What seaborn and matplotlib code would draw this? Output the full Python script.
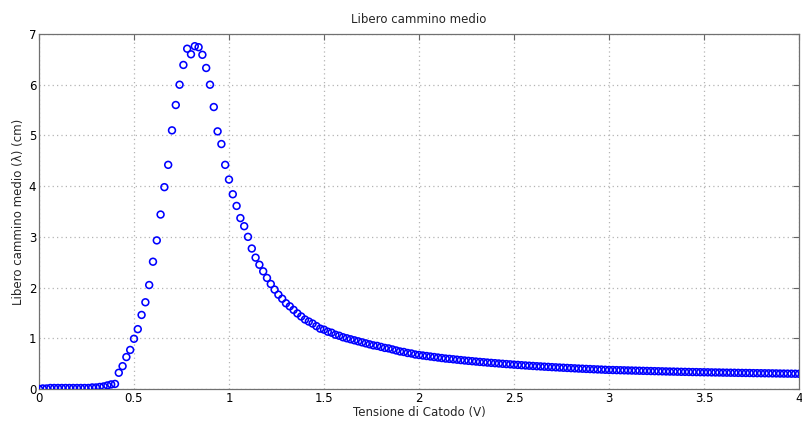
import numpy as np
import matplotlib
matplotlib.use("Agg")
import matplotlib.pyplot as plt
import seaborn as sns
from matplotlib.ticker import FormatStrFormatter, MultipleLocator

# Cathode voltage sampling grid (V), 0.02 V steps
voltage = np.linspace(0.0, 4.0, 201)

# Mean free path (cm)
rise = [0.00, 0.01, 0.01, 0.02, 0.02, 0.02, 0.02, 0.02, 0.02, 0.02,
        0.02, 0.02, 0.02, 0.02, 0.03, 0.03, 0.04, 0.05, 0.07, 0.09,
        0.10, 0.32, 0.45, 0.63, 0.77, 0.99, 1.18, 1.46, 1.71, 2.05]
peak = [2.51, 2.93, 3.44, 3.98, 4.42, 5.10, 5.60, 6.00, 6.39, 6.71,
        6.60, 6.76, 6.74, 6.59, 6.33, 6.00, 5.56, 5.08, 4.83, 4.42,
        4.13, 3.84, 3.61, 3.37, 3.21, 3.00, 2.77, 2.59, 2.45, 2.32,
        2.19, 2.07, 1.96, 1.86, 1.78, 1.69, 1.63, 1.56, 1.49, 1.43,
        1.37, 1.33, 1.29, 1.24, 1.19, 1.17, 1.13, 1.11, 1.07]
tail = [1.05, 1.02, 1.00, 0.98, 0.96, 0.94, 0.92, 0.90, 0.88, 0.86,
        0.85, 0.83, 0.81, 0.80, 0.78, 0.76, 0.74, 0.73, 0.71, 0.70,
        0.68, 0.67, 0.66, 0.65, 0.64, 0.63, 0.62, 0.61, 0.60, 0.594,
        0.586, 0.578, 0.570, 0.562, 0.555, 0.548, 0.541, 0.534, 0.528, 0.521,
        0.515, 0.509, 0.503, 0.497, 0.491, 0.486, 0.480, 0.475, 0.469, 0.464,
        0.459, 0.454, 0.449, 0.445, 0.440, 0.436, 0.431, 0.427, 0.423, 0.419,
        0.415, 0.411, 0.407, 0.403, 0.400, 0.396, 0.393, 0.389, 0.386, 0.383,
        0.379, 0.376, 0.374, 0.372, 0.370, 0.368, 0.366, 0.364, 0.362, 0.360,
        0.358, 0.356, 0.354, 0.352, 0.350, 0.348, 0.346, 0.344, 0.343, 0.341,
        0.339, 0.338, 0.336, 0.334, 0.333, 0.331, 0.330, 0.329, 0.327, 0.326,
        0.325, 0.323, 0.322, 0.321, 0.320, 0.318, 0.317, 0.316, 0.315, 0.313,
        0.312, 0.311, 0.310, 0.309, 0.308, 0.307, 0.305, 0.304, 0.303, 0.302,
        0.301, 0.300]
free_path = np.array(rise + peak + tail)

sns.set_style("white")
plt.rcParams['font.family'] = ['DejaVu Sans']

fig = plt.figure(figsize=(8.02, 4.23), dpi=100)
ax = fig.add_axes([0.0486, 0.0804, 0.9477, 0.8392])

sns.scatterplot(x=voltage, y=free_path, ax=ax, marker='o', s=24,
                fc='none', ec='#0000FF', linewidth=1.15, zorder=3)

ax.set_xlim(0, 4)
ax.set_ylim(0, 7)
ax.xaxis.set_major_locator(MultipleLocator(0.5))
ax.yaxis.set_major_locator(MultipleLocator(1))
ax.xaxis.set_major_formatter(FormatStrFormatter('%g'))
ax.yaxis.set_major_formatter(FormatStrFormatter('%g'))

# dotted MATLAB-like grid
ax.grid(True, linestyle=(0, (1, 2.5)), color='#b4b4b4', linewidth=0.9)
ax.tick_params(direction='in', length=4, width=0.8, color='#666666',
               top=True, right=True, labelsize=8.5, pad=2, labelcolor='black')
for sp in ax.spines.values():
    sp.set_color('#707070')
    sp.set_linewidth(0.9)

ax.set_xlabel('Tensione di Catodo (V)', fontsize=8.5, labelpad=1)
ax.set_ylabel('Libero cammino medio (λ) (cm)', fontsize=8.5, labelpad=3)
ax.set_title('Libero cammino medio', fontsize=8.5, pad=8)

fig.savefig('out.png', dpi=100)
